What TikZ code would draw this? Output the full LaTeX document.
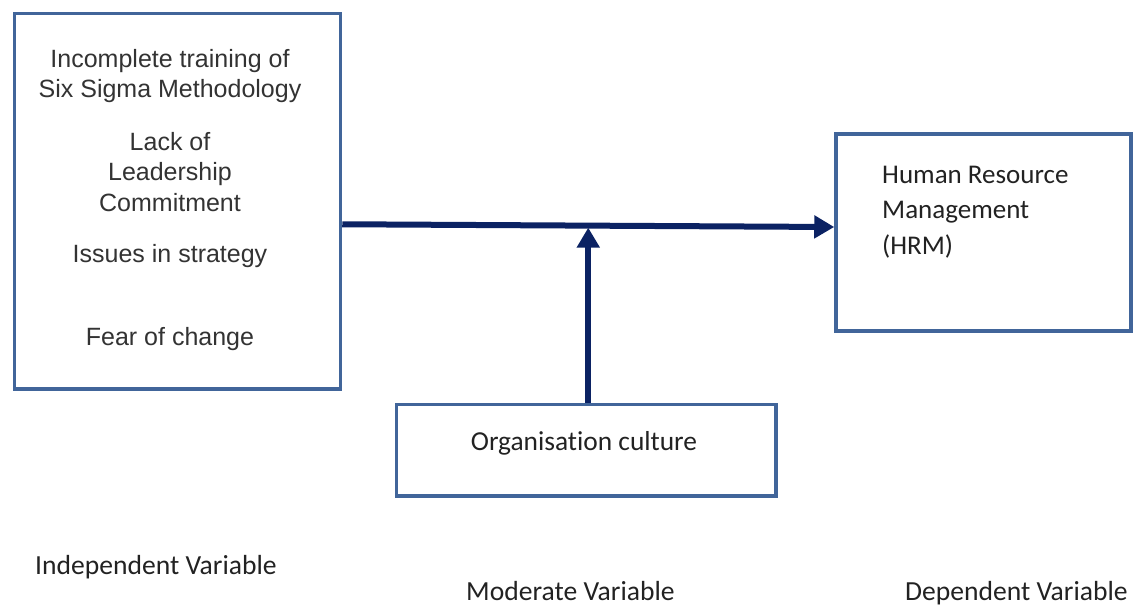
\documentclass[tikz,border=0pt]{standalone}
\usepackage{fontspec}
\setmainfont{Carlito}[Ligatures=NoCommon]
\newfontfamily\arialf{Liberation Sans}
\usetikzlibrary{arrows.meta,calc}
\definecolor{boxc}{HTML}{41659A}
\definecolor{arrc}{HTML}{0B2263}
\definecolor{txtl}{HTML}{333333}
\definecolor{txtr}{HTML}{222222}
\begin{document}
\begin{tikzpicture}[x=1pt,y=-1pt,
  varbox/.style={draw=boxc,line width=3.5pt,inner sep=0pt,fill=white},
  ltext/.style={font=\arialf\fontsize{25}{29}\selectfont,text=txtl,anchor=base,inner sep=0pt},
  rtext/.style={font=\fontsize{27}{35}\selectfont,text=txtr,anchor=base west,inner sep=0pt},
  btext/.style={font=\fontsize{27.6}{35}\selectfont,text=txtr,anchor=base west,inner sep=0pt},
  ctext/.style={font=\fontsize{27.4}{35}\selectfont,text=txtr,anchor=base,inner sep=0pt},
  link/.style={draw=arrc,line width=6pt,-{Triangle[length=20pt,width=22pt]}}]
\useasboundingbox (0,0) rectangle (1134,605);
% boxes
\node[varbox,minimum width=326pt,minimum height=375.5pt] (iv) at (177.5,201.25) {};
\node[varbox,minimum width=295pt,minimum height=197pt] (hrm) at (983.5,232.5) {};
\node[varbox,minimum width=379.5pt,minimum height=91.5pt] (org) at (586.25,450.25) {};
% left texts
\node[ltext] (t1) at (170,67) {Incomplete training of};
\node[ltext] (t2) at (170,97.5) {Six Sigma Methodology};
\node[ltext] (t3) at (170,150) {Lack of};
\node[ltext] (t4) at (170,180.5) {Leadership};
\node[ltext] (t5) at (170,211.5) {Commitment};
\node[ltext] (t6) at (170,262) {Issues in strategy};
\node[ltext] (t7) at (170,345) {Fear of change};
% right texts
\node[rtext] (r1) at (882,183) {Human Resource};
\node[rtext] (r2) at (882,218.5) {Management};
\node[rtext] (r3) at (882,254) {(HRM)};
% moderator text
\node[ctext] (oc) at (584,450) {Organisation culture};
% bottom labels
\node[btext] (l1) at (35,574) {Independent Variable};
\node[btext] (l2) at (466,600) {Moderate Variable};
\node[btext] (l3) at (905,600) {Dependent Variable};
% connectors
\coordinate (hs) at ($(iv.east)+(0,23)$);
\coordinate (he) at ($(hrm.west)+(0,-5.5)$);
\coordinate (m) at ($(hs)!0.5!(he)+(0,2)$);
\draw[link] (hs) -- (he);
\draw[link] (org.north -| m) -- (m);
\end{tikzpicture}
\end{document}
